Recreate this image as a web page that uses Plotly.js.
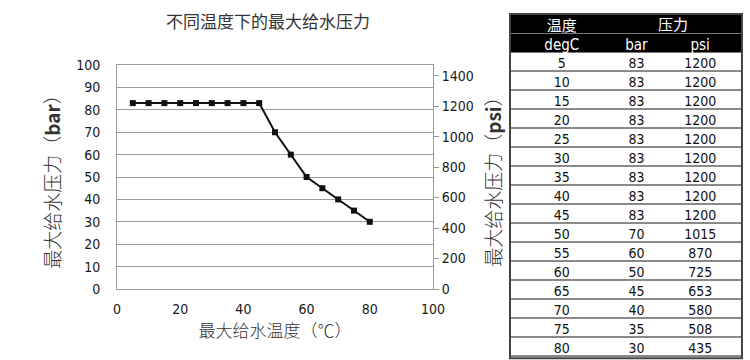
<!DOCTYPE html>
<html>
<head>
<meta charset="utf-8">
<script src="https://cdn.plot.ly/plotly-3.0.1.min.js"></script>
<style>html,body{margin:0;padding:0;background:#fff;}#chart{width:750px;height:360px;}</style>
</head>
<body>
<div id="chart"></div>
<script>
const temps = [5, 10, 15, 20, 25, 30, 35, 40, 45, 50, 55, 60, 65, 70, 75, 80];
const bar = [83, 83, 83, 83, 83, 83, 83, 83, 83, 70, 60, 50, 45, 40, 35, 30];
const psi = [1200, 1200, 1200, 1200, 1200, 1200, 1200, 1200, 1200, 1015, 870, 725, 653, 580, 508, 435];
const psiTicks = [0, 200, 400, 600, 800, 1000, 1200, 1400];
const headerTop = ['温度', '', ''];
const headerUnits = ['degC', 'bar', 'psi'];
const headerGroup = '压力';

const NARROW = '"Liberation Sans Narrow", "DejaVu Sans Condensed", "Arial Narrow", "Liberation Sans", Arial, sans-serif';
const CJK = '"Noto Sans CJK SC", "Noto Sans", sans-serif';
const tickFont = {family: NARROW, size: 14, color: '#1a1a1a'};
const titleFont = {family: CJK, size: 19, color: '#333', weight: 300};

const traces = [
  {
    type: 'scatter', mode: 'lines+markers', x: temps, y: bar,
    line: {color: '#111', width: 2}, marker: {symbol: 'square', size: 6, color: '#111'},
    xaxis: 'x', yaxis: 'y', hoverinfo: 'x+y', showlegend: false
  },
  {
    type: 'scatter', mode: 'lines', x: temps, y: psi,
    line: {color: 'rgba(0,0,0,0)', width: 0}, xaxis: 'x', yaxis: 'y2',
    hoverinfo: 'skip', showlegend: false
  },
  {
    type: 'table',
    domain: {x: [0.68, 0.9893], y: [0.005, 0.9611]},
    columnwidth: [104, 46, 82],
    header: {
      values: headerTop.map((t, i) => [t, headerUnits[i]]),
      fill: {color: '#000'},
      line: {color: '#777', width: 1},
      font: {family: NARROW + ', ' + CJK, size: 15, color: '#fff'},
      height: 19, align: 'center'
    },
    cells: {
      values: [temps, bar, psi],
      fill: {color: '#fff'},
      line: {color: '#8a8a8a', width: 2},
      font: {family: NARROW, size: 14, color: '#111'},
      height: 19, align: 'center'
    }
  }
];

const layout = {
  width: 750, height: 360,
  margin: {l: 0, r: 0, t: 0, b: 0},
  paper_bgcolor: '#fff', plot_bgcolor: '#fff',
  showlegend: false,
  title: {
    text: '不同温度下的最大给水压力', x: 268 / 750, y: 1 - 22 / 360,
    xanchor: 'center', yanchor: 'middle', font: {family: CJK, size: 17, color: '#333'}
  },
  xaxis: {
    domain: [0.156, 0.5773], range: [0, 100], dtick: 20,
    showgrid: false, zeroline: false, showline: true, mirror: true,
    linecolor: '#9a9a9a', linewidth: 1,
    ticks: 'outside', ticklen: 7, tickcolor: 'rgba(0,0,0,0)',
    tickfont: tickFont,
    title: {text: '最大给水温度（℃）', font: {family: CJK, size: 17, color: '#333', weight: 300}, standoff: 6}
  },
  yaxis: {
    domain: [0.1972, 0.8194], range: [0, 100], dtick: 10,
    showgrid: true, gridcolor: '#9a9a9a', gridwidth: 1,
    zeroline: false, showline: true, mirror: true, linecolor: '#9a9a9a', linewidth: 1,
    ticks: 'outside', ticklen: 13, tickcolor: 'rgba(0,0,0,0)',
    tickfont: tickFont,
    title: {text: '最大给水压力（<b>bar</b>）', font: titleFont, standoff: 10}
  },
  yaxis2: {
    overlaying: 'y', side: 'right', range: [0, 1470],
    tickvals: psiTicks, showgrid: false, zeroline: false, showline: false,
    ticks: 'outside', ticklen: 5, tickcolor: '#9a9a9a',
    tickfont: tickFont,
    title: {text: '最大给水压力（<b>psi</b>）', font: titleFont, standoff: 14}
  },
  annotations: [
    {text: headerGroup, xref: 'paper', yref: 'paper', x: 673 / 750, y: 1 - 23.5 / 360,
     xanchor: 'center', yanchor: 'middle', showarrow: false,
     font: {family: CJK, size: 15, color: '#fff'}}
  ],
  shapes: [
    {type: 'rect', xref: 'paper', yref: 'paper', x0: 0.68, x1: 0.9893, y0: 0.005, y1: 0.9611,
     line: {color: '#444', width: 2}, fillcolor: 'rgba(0,0,0,0)'}
  ]
};

Plotly.newPlot('chart', traces, layout, {displayModeBar: false, staticPlot: true}).then(function (gd) {
  gd.querySelectorAll('.table .cell-rect').forEach(function (r) {
    const w = parseFloat(r.getAttribute('width'));
    const h = parseFloat(r.getAttribute('height'));
    if (w && h) r.style.strokeDasharray = w + ' ' + h;
  });
  gd.querySelectorAll('.table .cell-text-holder').forEach(function (el) {
    const t = el.getAttribute('transform') || '';
    el.setAttribute('transform', t + ' translate(0,-2.5)');
  });
});
</script>
</body>
</html>
